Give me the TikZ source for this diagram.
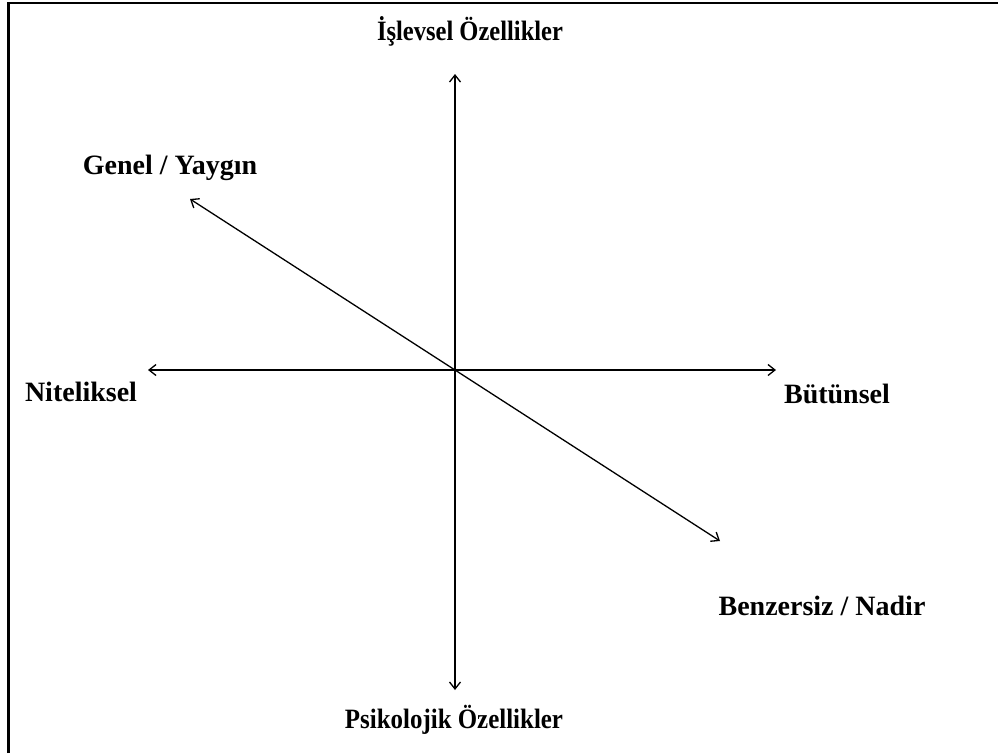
\documentclass[tikz,border=0pt]{standalone}
\usepackage{fontspec}
\setmainfont{Liberation Serif}
\usetikzlibrary{arrows.meta}
\begin{document}
\begin{tikzpicture}[x=1pt,y=-1pt,
  axis/.style={line width=1.3pt,{Straight Barb[length=7pt,width=11pt,line width=1.3pt]}-{Straight Barb[length=7pt,width=11pt,line width=1.3pt]}},
  lbl/.style={font=\fontsize{28}{32}\selectfont\bfseries,anchor=base,inner sep=0pt},
  frame/.style={line width=2.5pt}]
\useasboundingbox (0,0) rectangle (998,753);
\coordinate (tl) at (8.5,3);
\coordinate (tr) at (998,3);
\coordinate (bl) at (8.5,753);
\draw[frame] (bl) -- (tl) -- (tr);
\coordinate (top) at (455,74);
\coordinate (bot) at (455,690);
\coordinate (lft) at (148,370);
\coordinate (rgt) at (776,370);
\coordinate (ul) at (190,199);
\coordinate (lr) at (720,541);
\draw[axis] (bot) -- (top);
\draw[axis] (lft) -- (rgt);
\draw[axis] (lr) -- (ul);
\node[lbl] (islev) at (470,40) {\scalebox{0.876}[1]{İşlevsel Özellikler}};
\node[lbl] (genel) at (170,174) {Genel / Yaygın};
\node[lbl] (nitel) at (81,401) {Niteliksel};
\node[lbl] (butun) at (837,403) {Bütünsel};
\node[lbl] (benz) at (822,615) {Benzersiz / Nadir};
\node[lbl] (psiko) at (454,728) {\scalebox{0.89}[1]{Psikolojik Özellikler}};
\end{tikzpicture}
\end{document}
